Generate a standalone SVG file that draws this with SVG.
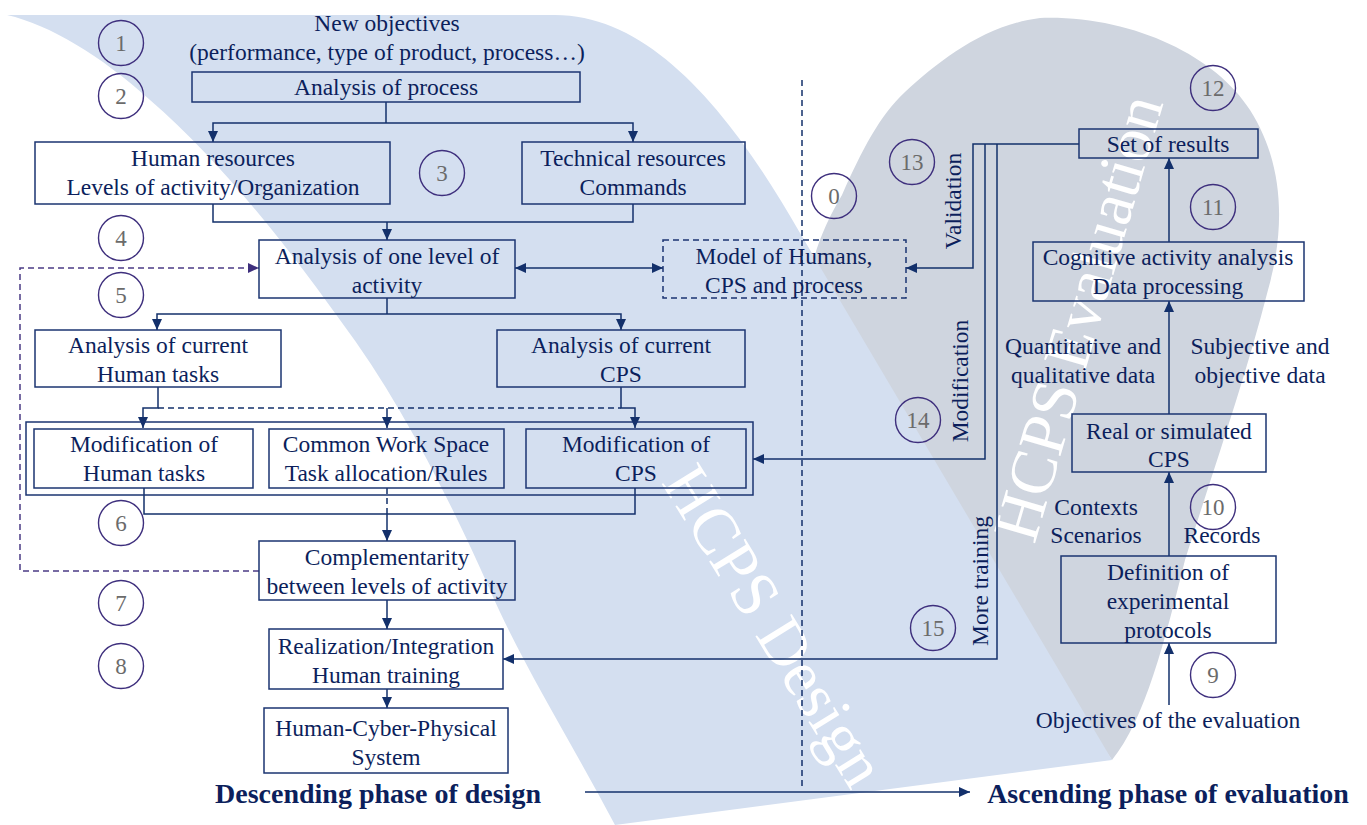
<svg xmlns="http://www.w3.org/2000/svg" width="1367" height="825" viewBox="0 0 1367 825">
<defs>
<style>
.bg{stroke:none}
.box{fill:none;stroke:#1b3571;stroke-width:1.5}
.dbox{fill:none;stroke:#1b3571;stroke-width:1.5;stroke-dasharray:6 4}
text{font-family:"Liberation Serif","Times New Roman",serif}
.t{font-size:23.5px;fill:#0c1f5c;text-anchor:middle}
.b{font-size:28px;font-weight:bold;fill:#0c1f5c;text-anchor:middle}
.w{font-size:65px;fill:#ffffff;text-anchor:middle}
.num circle{fill:none;stroke:#3e2f7d;stroke-width:1.4}
.num text{font-size:23px;fill:#6b6b6b;text-anchor:middle}
.ln{fill:none;stroke:#13306b;stroke-width:1.5}
.ln.d{stroke-dasharray:6 4}
.pl{fill:none;stroke:#4b3b85;stroke-width:1.5;stroke-dasharray:6 4}
</style>
<marker id="a" markerUnits="userSpaceOnUse" markerWidth="11" markerHeight="10" refX="11" refY="5" orient="auto-start-reverse"><path d="M0,0 L11,5 L0,10 z" fill="#13306b"/></marker>
<marker id="ap" markerUnits="userSpaceOnUse" markerWidth="11" markerHeight="10" refX="11" refY="5" orient="auto"><path d="M0,0 L11,5 L0,10 z" fill="#3e2f7d"/></marker>
</defs>
<rect width="1367" height="825" fill="#ffffff"/>
<g id="background">
<path class="bg" fill="#cfd5df" d="M1040,18 C1130,15 1215,55 1250,110 C1285,165 1285,230 1268,290 C1245,380 1210,480 1185,560 C1165,640 1145,720 1112,760 L1000,600 L812,330 C800,290 815,240 842,195 C862,150 880,115 905,92 C940,60 985,25 1040,18 Z"/>
<path class="bg" fill="#d4dff0" d="M7,15 L555,15 C650,15 730,110 800,233 L1112,760 L615,825 C570,740 520,660 490,590 C450,500 400,400 340,320 C290,250 220,160 150,100 C100,55 50,25 7,15 Z"/>
<text class="w" transform="translate(756,637) rotate(58.3)">HCPS Design</text>
<text class="w" transform="translate(1099,324) rotate(-73.7)">HCPS Evaluation</text>
<path class="ln d" d="M802,80 V787"/>
</g>
<g id="connectors">
<path class="ln" d="M386,102 V123"/>
<path class="ln" d="M386,123 H213 V142" marker-end="url(#a)"/>
<path class="ln" d="M386,123 H633 V142" marker-end="url(#a)"/>
<path class="ln" d="M213,204 V222 H633 V204"/>
<path class="ln" d="M387,222 V240" marker-end="url(#a)"/>
<path class="ln" d="M515,268 H663" marker-start="url(#a)" marker-end="url(#a)"/>
<path class="pl" d="M259,571 H20 V268 H259" marker-end="url(#ap)"/>
<path class="ln" d="M387,298 V314"/>
<path class="ln" d="M387,314 H157 V330" marker-end="url(#a)"/>
<path class="ln" d="M387,314 H621 V330" marker-end="url(#a)"/>
<path class="ln" d="M158,387 V408 H143 V428" marker-end="url(#a)"/>
<path class="ln" d="M621,387 V408 H635 V428" marker-end="url(#a)"/>
<path class="ln d" d="M158,408 H621"/>
<path class="ln" d="M387,408 V428" marker-end="url(#a)"/>
<path class="ln" d="M144,488 V514 H635 V488"/>
<path class="ln d" d="M387,488 V514"/>
<path class="ln" d="M387,514 V541" marker-end="url(#a)"/>
<path class="ln" d="M387,600 V629" marker-end="url(#a)"/>
<path class="ln" d="M387,689 V708" marker-end="url(#a)"/>
<path class="ln" d="M1079,144 H973 V268 H906" marker-end="url(#a)"/>
<path class="ln" d="M985,144 V459 H753" marker-end="url(#a)"/>
<path class="ln" d="M997,144 V659 H503" marker-end="url(#a)"/>
<path class="ln" d="M1169,242 V158" marker-end="url(#a)"/>
<path class="ln" d="M1169,414 V301" marker-end="url(#a)"/>
<path class="ln" d="M1169,556 V472" marker-end="url(#a)"/>
<path class="ln" d="M1169,705 V643" marker-end="url(#a)"/>
<path class="ln" d="M585,792 H970" marker-end="url(#a)"/>
</g>
<g id="new-objectives"><text class="t" x="387" y="31">New objectives</text><text class="t" x="387" y="60">(performance, type of product, process…)</text></g>
<g id="analysis-process"><rect class="box" x="192" y="72" width="388" height="30"/><text class="t" x="386" y="95">Analysis of process</text></g>
<g id="human-resources"><rect class="box" x="35" y="142" width="355" height="62"/><text class="t" x="213" y="166">Human resources</text><text class="t" x="213" y="195">Levels of activity/Organization</text></g>
<g id="technical-resources"><rect class="box" x="522" y="142" width="223" height="62"/><text class="t" x="633" y="166">Technical resources</text><text class="t" x="633" y="195">Commands</text></g>
<g id="analysis-level"><rect class="box" x="259" y="240" width="256" height="58"/><text class="t" x="387" y="264">Analysis of one level of</text><text class="t" x="387" y="293">activity</text></g>
<g id="model"><rect class="dbox" x="663" y="240" width="243" height="58"/><text class="t" x="784" y="264">Model of Humans,</text><text class="t" x="784" y="293">CPS and process</text></g>
<g id="current-human"><rect class="box" x="35" y="330" width="246" height="57"/><text class="t" x="158" y="353">Analysis of current</text><text class="t" x="158" y="382">Human tasks</text></g>
<g id="current-cps"><rect class="box" x="497" y="330" width="248" height="57"/><text class="t" x="621" y="353">Analysis of current</text><text class="t" x="621" y="382">CPS</text></g>
<g id="modification-group"><rect class="box" x="26" y="422" width="727" height="73"/></g>
<g id="mod-human"><rect class="box" x="34" y="429" width="219" height="59"/><text class="t" x="144" y="452">Modification of</text><text class="t" x="144" y="481">Human tasks</text></g>
<g id="cws"><rect class="box" x="269" y="429" width="235" height="59"/><text class="t" x="386" y="452">Common Work Space</text><text class="t" x="386" y="481">Task allocation/Rules</text></g>
<g id="mod-cps"><rect class="box" x="526" y="429" width="220" height="59"/><text class="t" x="636" y="452">Modification of</text><text class="t" x="636" y="481">CPS</text></g>
<g id="complementarity"><rect class="box" x="259" y="541" width="256" height="59"/><text class="t" x="387" y="565">Complementarity</text><text class="t" x="387" y="594">between levels of activity</text></g>
<g id="realization"><rect class="box" x="269" y="629" width="234" height="60"/><text class="t" x="386" y="654">Realization/Integration</text><text class="t" x="386" y="683">Human training</text></g>
<g id="hcps"><rect class="box" x="264" y="708" width="244" height="65"/><text class="t" x="386" y="736">Human-Cyber-Physical</text><text class="t" x="386" y="765">System</text></g>
<g id="set-results"><rect class="box" x="1079" y="129" width="179" height="29"/><text class="t" x="1168" y="152">Set of results</text></g>
<g id="cognitive"><rect class="box" x="1033" y="242" width="271" height="59"/><text class="t" x="1168" y="265">Cognitive activity analysis</text><text class="t" x="1168" y="294">Data processing</text></g>
<g id="real-cps"><rect class="box" x="1072" y="414" width="194" height="58"/><text class="t" x="1169" y="439">Real or simulated</text><text class="t" x="1169" y="467">CPS</text></g>
<g id="definition"><rect class="box" x="1061" y="556" width="215" height="87"/><text class="t" x="1168" y="580">Definition of</text><text class="t" x="1168" y="609">experimental</text><text class="t" x="1168" y="638">protocols</text></g>
<g id="labels">
<text class="t" x="1168" y="728">Objectives of the evaluation</text>
<text class="t" x="1083" y="354">Quantitative and</text><text class="t" x="1083" y="383">qualitative data</text>
<text class="t" x="1260" y="354">Subjective and</text><text class="t" x="1260" y="383">objective data</text>
<text class="t" x="1096" y="515">Contexts</text><text class="t" x="1096" y="543">Scenarios</text>
<text class="t" x="1222" y="543">Records</text>
<text class="t" transform="translate(961,201) rotate(-90)">Validation</text>
<text class="t" transform="translate(968,381) rotate(-90)">Modification</text>
<text class="t" transform="translate(988,581) rotate(-90)">More training</text>
<text class="b" x="378" y="803">Descending phase of design</text>
<text class="b" x="1168" y="803">Ascending phase of evaluation</text>
</g>
<g id="steps" class="num">
<g id="s1"><circle cx="121" cy="43" r="22.5"/><text x="121" y="51">1</text></g>
<g id="s2"><circle cx="121" cy="96" r="22.5"/><text x="121" y="104">2</text></g>
<g id="s3"><circle cx="442" cy="173" r="22.5"/><text x="442" y="181">3</text></g>
<g id="s4"><circle cx="121" cy="238" r="22.5"/><text x="121" y="246">4</text></g>
<g id="s5"><circle cx="121" cy="295" r="22.5"/><text x="121" y="303">5</text></g>
<g id="s6"><circle cx="121" cy="523" r="22.5"/><text x="121" y="531">6</text></g>
<g id="s7"><circle cx="121" cy="603" r="22.5"/><text x="121" y="611">7</text></g>
<g id="s8"><circle cx="121" cy="666" r="22.5"/><text x="121" y="674">8</text></g>
<g id="s0"><circle cx="834" cy="196" r="22.5"/><text x="834" y="204">0</text></g>
<g id="s13"><circle cx="912" cy="162" r="22.5"/><text x="912" y="170">13</text></g>
<g id="s14"><circle cx="918" cy="420" r="22.5"/><text x="918" y="428">14</text></g>
<g id="s15"><circle cx="933" cy="628" r="22.5"/><text x="933" y="636">15</text></g>
<g id="s12"><circle cx="1213" cy="88" r="22.5"/><text x="1213" y="96">12</text></g>
<g id="s11"><circle cx="1213" cy="207" r="22.5"/><text x="1213" y="215">11</text></g>
<g id="s10"><circle cx="1213" cy="507" r="22.5"/><text x="1213" y="515">10</text></g>
<g id="s9"><circle cx="1213" cy="675" r="22.5"/><text x="1213" y="683">9</text></g>
</g>
</svg>
